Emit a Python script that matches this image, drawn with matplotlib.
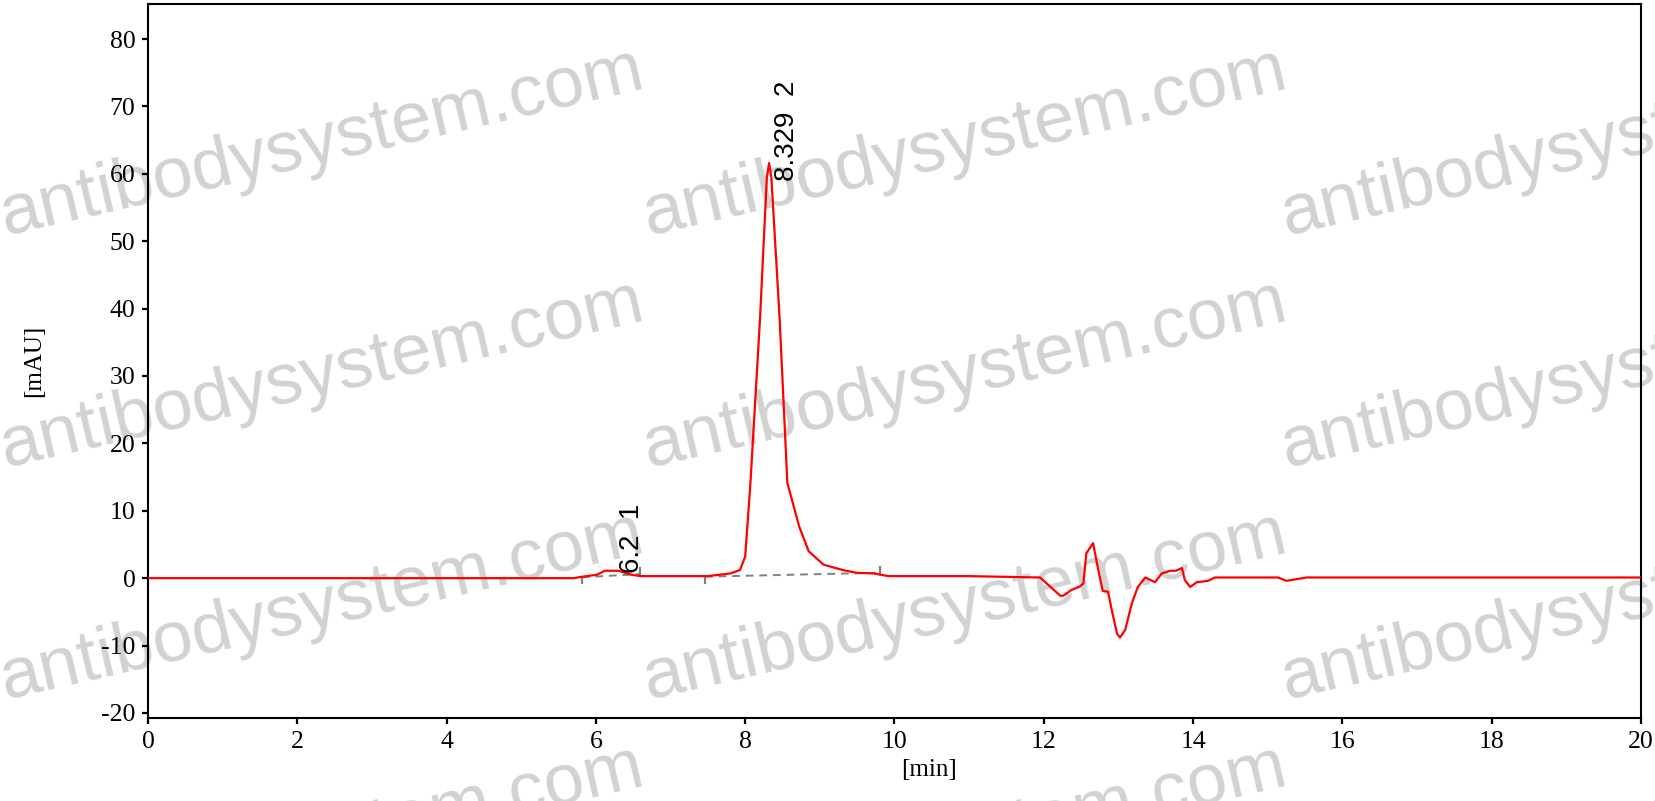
import numpy as np
import matplotlib
matplotlib.use("Agg")
import matplotlib.pyplot as plt

plt.rcParams['axes.unicode_minus'] = False

# chromatogram trace [min], [mAU]
t = [0.0, 5.70, 5.81, 6.01, 6.12, 6.30, 6.48, 6.60, 7.50, 7.80, 7.93, 8.00,
     8.07, 8.20, 8.29, 8.32, 8.35, 8.46, 8.565, 8.725, 8.85, 9.05, 9.31, 9.49,
     9.72, 9.92, 11.0, 11.95, 12.22, 12.26, 12.37, 12.48, 12.53, 12.57, 12.66,
     12.73, 12.79, 12.86, 12.91, 12.98, 13.02, 13.09, 13.18, 13.26, 13.36,
     13.49, 13.58, 13.64, 13.69, 13.77, 13.85, 13.89, 13.96, 14.05, 14.20,
     14.29, 15.14, 15.25, 15.52, 20.0]
mau = [0.0, 0.0, 0.2, 0.5, 1.1, 1.1, 0.5, 0.3, 0.3, 0.7, 1.2, 3.2,
       14.1, 38.8, 59.5, 61.6, 59.5, 38.8, 14.1, 7.6, 4.0, 2.0, 1.2, 0.8,
       0.7, 0.3, 0.3, 0.1, -2.6, -2.6, -1.75, -1.25, -0.8, 3.7, 5.2,
       1.2, -1.9, -2.0, -4.7, -8.2, -8.8, -7.7, -3.7, -1.3, 0.1,
       -0.6, 0.7, 0.9, 1.1, 1.1, 1.5, -0.3, -1.3, -0.6, -0.4,
       0.1, 0.1, -0.4, 0.1, 0.1]

# integration baselines (start/end time and level)
bl_t0 = [5.81, 7.46]
bl_y0 = [0.13, 0.22]
bl_t1 = [6.59, 9.80]
bl_y1 = [0.6, 0.8]

# peak annotations
pk_text = ["6.2  1", "8.329  2"]
pk_x = [6.48, 8.56]
pk_y = [0.7, 59.0]

xticks = [0, 2, 4, 6, 8, 10, 12, 14, 16, 18, 20]
yticks = [-20, -10, 0, 10, 20, 30, 40, 50, 60, 70, 80]

wm_text = "antibodysystem.com"

fig = plt.figure(figsize=(16.56, 8.01), dpi=100)
ax = fig.add_axes([148/1656, 83/801, (1641-148)/1656, (718-4)/801])

# watermark, behind everything
for cx in [322, 965, 1603]:
    for cy in [143, 375, 607, 840]:
        fig.text(cx/1656, 1-cy/801, wm_text, rotation=13, rotation_mode='anchor',
                 ha='center', va='center', fontsize=52, color='#d2d2d2',
                 family='Liberation Sans', zorder=-1)

ax.plot(t, mau, color='#ff0000', lw=1.6, zorder=3)

for a, b, c, d in zip(bl_t0, bl_y0, bl_t1, bl_y1):
    ax.plot([a, c], [b, d], color='#808080', lw=1.4, ls=(0, (4, 3)), zorder=2)
    ax.plot([a, a], [b, b-0.9], color='#808080', lw=1.6, zorder=2)
    ax.plot([c, c], [d, d+0.9], color='#808080', lw=1.6, zorder=2)

for s, x, y in zip(pk_text, pk_x, pk_y):
    ax.text(x, y, s, rotation=90, ha='center', va='bottom', fontsize=20,
            family='Liberation Sans', zorder=4)

ax.set_xlim(0, 20)
ax.set_ylim(-20.75, 85.2)
ax.set_xticks(xticks)
ax.set_yticks(yticks)
ax.patch.set_alpha(0)
for sp in ax.spines.values():
    sp.set_linewidth(1.5)
ax.tick_params(direction='out', length=4, width=1.6, pad=5,
               labelsize=18.5, labelfontfamily='Liberation Serif')
ax.set_xlabel('[min]', fontsize=18, family='Liberation Serif')
ax.set_ylabel('[mAU]', fontsize=18, family='Liberation Serif')
ax.xaxis.set_label_coords((929-148)/(1641-148), -(770-718)/714, transform=ax.transAxes)
ax.yaxis.set_label_coords(-(148-34)/1493, 0.5, transform=ax.transAxes)
ax.xaxis.label.set_va('center')
ax.yaxis.label.set_va('center')

fig.savefig('out.png', dpi=100)
